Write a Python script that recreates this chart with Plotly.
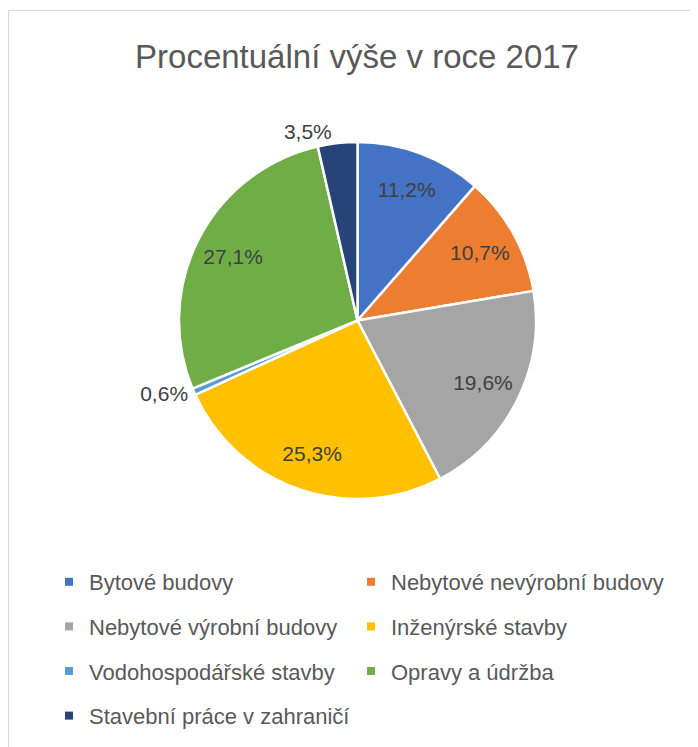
import plotly.graph_objects as go

# ---- data ----
categories = [
    "Bytové budovy",
    "Nebytové nevýrobní budovy",
    "Nebytové výrobní budovy",
    "Inženýrské stavby",
    "Vodohospodářské stavby",
    "Opravy a údržba",
    "Stavební práce v zahraničí",
]
values = [11.2, 10.7, 19.6, 25.3, 0.6, 27.1, 3.5]
value_labels = ["11,2%", "10,7%", "19,6%", "25,3%", "0,6%", "27,1%", "3,5%"]
title_text = "Procentuální výše v roce 2017"

# ---- styles ----
colors = ["#4472C4", "#ED7D31", "#A5A5A5", "#FFC000", "#5B9BD5", "#70AD47", "#264478"]
positions = ["inside", "inside", "inside", "inside", "outside", "inside", "outside"]
FONT = "Liberation Sans, Arial, sans-serif"
W, H = 698, 747
OFF = 8  # page body margin of the html page

PIE_DOMAIN = dict(x=[(179 - OFF) / W, (536 - OFF) / W],
                  y=[1 - (499 - OFF) / H, 1 - (142 - OFF) / H])
label_font = dict(family=FONT, size=21, color="#404040")

fig = go.Figure()

# coloured slices
fig.add_trace(go.Pie(
    labels=categories,
    values=values,
    textinfo="none",
    marker=dict(colors=colors, line=dict(color="white", width=2.5)),
    sort=False,
    direction="clockwise",
    rotation=0,
    showlegend=False,
    hoverinfo="label+percent",
    domain=PIE_DOMAIN,
))

# transparent ring on top carrying the data labels (places them at ~0.8 r)
fig.add_trace(go.Pie(
    labels=categories,
    values=values,
    text=value_labels,
    textinfo="text",
    textposition=positions,
    insidetextorientation="horizontal",
    textfont=label_font,
    outsidetextfont=label_font,
    insidetextfont=label_font,
    hole=0.57,
    marker=dict(colors=["rgba(0,0,0,0)"] * len(values), line=dict(width=0)),
    sort=False,
    direction="clockwise",
    rotation=0,
    showlegend=False,
    hoverinfo="label+percent",
    domain=PIE_DOMAIN,
))

# legend entries (two columns, like the Excel legend); the dummy points lie
# outside the hidden axis range so only their legend symbols show
for i, (cat, col) in enumerate(zip(categories, colors)):
    fig.add_trace(go.Scatter(
        x=[0], y=[0], mode="markers",
        marker=dict(symbol="square", size=8, color=col),
        name=cat,
        legendgroup=cat,
        legend="legend" if i % 2 == 0 else "legend2",
        showlegend=True,
        hoverinfo="skip",
        cliponaxis=True,
    ))

legend_common = dict(
    orientation="v",
    xref="paper", yref="paper",
    xanchor="left", yanchor="top",
    font=dict(family=FONT, size=22, color="#595959"),
    itemwidth=30,
    tracegroupgap=13,
    bgcolor="rgba(0,0,0,0)",
    itemclick=False, itemdoubleclick=False,
)

fig.update_layout(
    width=W, height=H,
    margin=dict(l=0, r=0, t=0, b=0, autoexpand=False),
    paper_bgcolor="white",
    plot_bgcolor="white",
    title=dict(
        text=title_text,
        font=dict(family=FONT, size=33, color="#595959"),
        x=(357 - OFF) / W, xanchor="center",
        y=1 - (56 - OFF) / H, yanchor="middle",
        xref="container", yref="container",
    ),
    xaxis=dict(visible=False, range=[1, 2], fixedrange=True),
    yaxis=dict(visible=False, range=[1, 2], fixedrange=True),
    legend=dict(x=41 / W, y=1 - 553 / H, **legend_common),
    legend2=dict(x=343 / W, y=1 - 553 / H, **legend_common),
    shapes=[dict(
        type="rect", xref="paper", yref="paper",
        x0=0.5 / W, x1=1.02, y0=-0.02, y1=1 - 2.5 / H,
        line=dict(color="#D9D9D9", width=1),
        fillcolor="rgba(0,0,0,0)",
        layer="below",
    )],
)

fig.write_html("out.html")
